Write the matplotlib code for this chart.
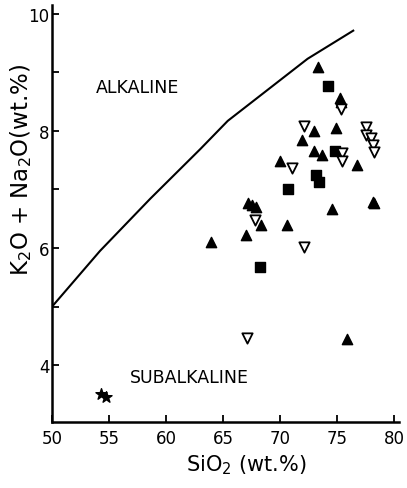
import numpy as np
import matplotlib
matplotlib.use("Agg")
import matplotlib.pyplot as plt

# alkaline / subalkaline dividing line
line_x = [50.0, 54.2, 58.6, 63.0, 65.4, 72.4, 76.4]
line_y = [5.0, 5.95, 6.84, 7.69, 8.17, 9.23, 9.71]

# filled triangles
tri_x = [73.3, 75.2, 75.3, 73.0, 74.9, 71.9, 73.0, 73.7, 76.7, 70.0, 78.1, 78.2,
         74.5, 67.2, 67.5, 67.9, 68.3, 70.6, 67.0, 63.9, 75.85]
tri_y = [9.09, 8.56, 8.49, 8.00, 8.05, 7.85, 7.66, 7.58, 7.41, 7.48, 6.79, 6.76,
         6.67, 6.77, 6.74, 6.70, 6.39, 6.39, 6.22, 6.11, 4.44]

# filled squares
sq_x = [74.15, 74.8, 73.1, 73.4, 70.7, 68.2]
sq_y = [8.76, 7.65, 7.25, 7.13, 7.00, 5.67]

# open inverted triangles
inv_x = [75.3, 72.1, 77.5, 77.5, 78.0, 78.1, 78.2, 75.4, 75.4, 71.0, 67.8, 72.1, 67.1]
inv_y = [8.38, 8.09, 8.07, 7.93, 7.88, 7.76, 7.64, 7.62, 7.49, 7.36, 6.47, 6.02, 4.46]

# stars
star_x = [54.3, 54.7]
star_y = [3.50, 3.45]

fig = plt.figure(figsize=(4.07, 4.89), dpi=100)
ax = fig.add_axes([0.128, 0.135, 0.852, 0.853])

ax.plot(line_x, line_y, color="black", lw=1.5)
ax.scatter(tri_x, tri_y, marker="^", s=55, color="black", zorder=3)
ax.scatter(sq_x, sq_y, marker="s", s=55, color="black", zorder=3)
ax.scatter(inv_x, inv_y, marker="v", s=55, facecolor="white", edgecolor="black",
           linewidths=1.3, zorder=4)
ax.scatter(star_x, star_y, marker="*", s=70, color="black", zorder=3)

ax.text(57.5, 8.74, "ALKALINE", ha="center", va="center", fontsize=12.5)
ax.text(62.0, 3.79, "SUBALKALINE", ha="center", va="center", fontsize=12.5)

ax.set_xlim(50, 80.4)
ax.set_ylim(3.03, 10.15)
ax.set_xticks([50, 55, 60, 65, 70, 75, 80])
ax.set_yticks([4, 6, 8, 10])
ax.set_yticks([5, 7, 9], minor=True)
ax.tick_params(axis="both", which="both", direction="in", length=5, width=1.3,
               labelsize=12, pad=5)
ax.tick_params(axis="y", pad=2)

ax.spines["top"].set_visible(False)
ax.spines["right"].set_visible(False)
ax.spines["left"].set_linewidth(1.8)
ax.spines["bottom"].set_linewidth(1.8)

ax.set_xlabel(r"SiO$_2$ (wt.%)", fontsize=15)
ax.set_ylabel(r"K$_2$O + Na$_2$O(wt.%)", fontsize=16.5)
ax.xaxis.set_label_coords(0.56, -0.072)
ax.yaxis.set_label_coords(-0.052, 0.607)

fig.savefig("out.png", dpi=100)
